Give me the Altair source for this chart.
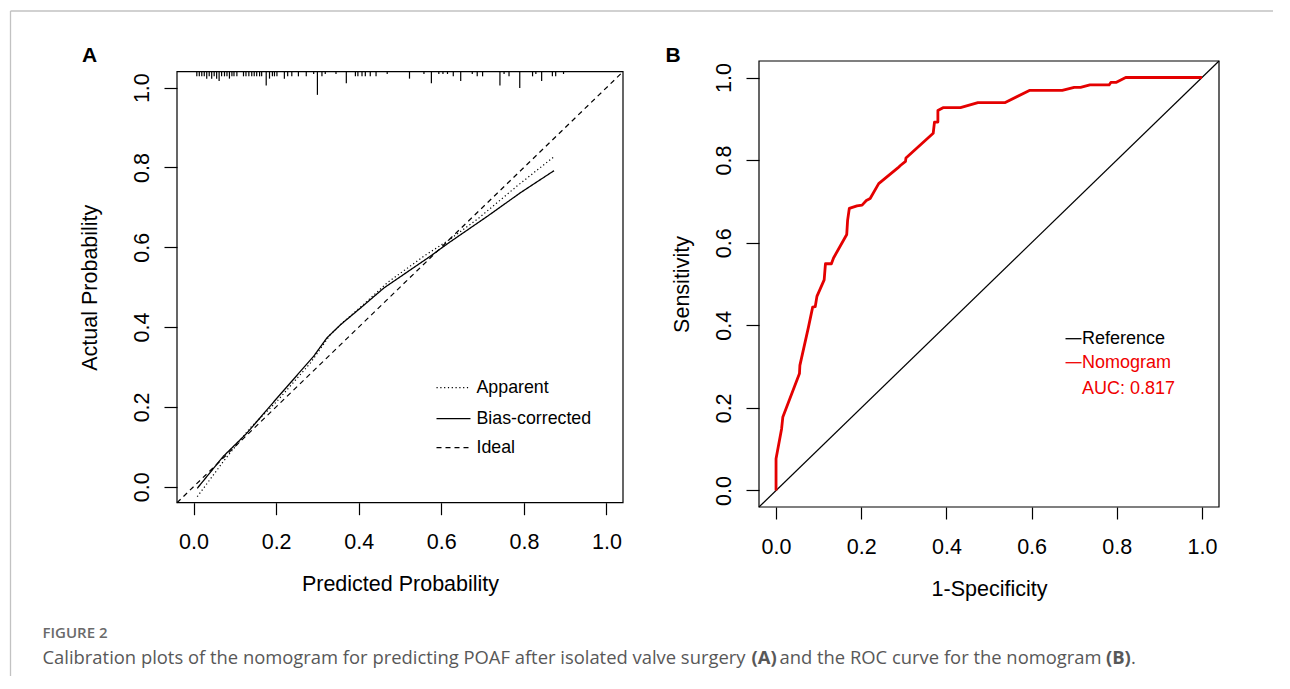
import altair as alt
import pandas as pd

TICKS = [0.0, 0.2, 0.4, 0.6, 0.8, 1.0]
LO, HI = -0.04, 1.04

# ---------- Panel A: calibration ----------
rug_x = [0.008, 0.014, 0.020, 0.026, 0.032, 0.038, 0.044, 0.050, 0.056, 0.062, 0.068, 0.075,
         0.081, 0.087, 0.093, 0.098, 0.105, 0.121, 0.127, 0.134, 0.141, 0.147, 0.153, 0.160,
         0.165, 0.176, 0.184, 0.191, 0.196, 0.202, 0.220, 0.228, 0.238, 0.254, 0.273, 0.291,
         0.300, 0.311, 0.319, 0.345, 0.370, 0.392, 0.398, 0.408, 0.416, 0.428, 0.442, 0.469,
         0.523, 0.558, 0.576, 0.594, 0.604, 0.615, 0.629, 0.647, 0.675, 0.687, 0.700, 0.742,
         0.752, 0.764, 0.790, 0.821, 0.829, 0.843, 0.869, 0.877, 0.896]
rug_n = [2, 2, 2, 2, 3, 2, 3, 2, 3, 4, 2, 2,
         2, 3, 2, 2, 2, 2, 2, 2, 2, 2, 2, 2,
         2, 6, 3, 2, 2, 2, 3, 2, 2, 2, 2, 1,
         10, 2, 1, 1, 5, 2, 2, 2, 2, 2, 2, 1,
         3, 1, 5, 1, 1, 1, 2, 4, 1, 2, 2, 6,
         1, 2, 7, 2, 1, 4, 2, 2, 1]

apparent_x = [0.009, 0.072, 0.137, 0.202, 0.283, 0.331, 0.364, 0.412, 0.469, 0.558, 0.615, 0.687, 0.784, 0.873]
apparent_y = [-0.025, 0.063, 0.147, 0.214, 0.310, 0.381, 0.414, 0.457, 0.511, 0.578, 0.616, 0.670, 0.754, 0.827]
bias_x = [0.009, 0.072, 0.129, 0.202, 0.291, 0.323, 0.356, 0.400, 0.461, 0.574, 0.615, 0.712, 0.792, 0.873]
bias_y = [-0.004, 0.076, 0.134, 0.222, 0.327, 0.373, 0.406, 0.444, 0.498, 0.578, 0.609, 0.678, 0.737, 0.792]
ideal_xy = [LO, HI]

legendA_labels = ["Apparent", "Bias-corrected", "Ideal"]

# ---------- Panel B: ROC ----------
roc_fpr = [0.0, 0.0, 0.013, 0.016, 0.055, 0.056, 0.076, 0.086, 0.092, 0.096, 0.113, 0.116,
           0.130, 0.135, 0.166, 0.168, 0.172, 0.190, 0.202, 0.212, 0.221, 0.241, 0.286, 0.292,
           0.304, 0.305, 0.369, 0.372, 0.380, 0.380, 0.392, 0.433, 0.474, 0.537, 0.596, 0.672,
           0.700, 0.715, 0.737, 0.782, 0.786, 0.798, 0.821, 1.0]
roc_tpr = [0.0, 0.077, 0.149, 0.178, 0.283, 0.303, 0.395, 0.444, 0.445, 0.470, 0.510, 0.549,
           0.549, 0.563, 0.620, 0.654, 0.683, 0.689, 0.691, 0.702, 0.707, 0.743, 0.781, 0.787,
           0.797, 0.805, 0.865, 0.892, 0.892, 0.920, 0.927, 0.927, 0.939, 0.939, 0.969, 0.969,
           0.976, 0.976, 0.982, 0.982, 0.988, 0.988, 1.0, 1.0]
auc_text = "AUC: 0.817"

caption_head = "FIGURE 2"
caption_parts = ["Calibration plots of the nomogram for predicting POAF after isolated valve surgery",
                 "(A)", "and the ROC curve for the nomogram", "(B)", "."]

# ---------- layout constants (pixels) ----------
A_W, A_H, A_TOP = 446, 441.7, 10.7
B_W, B_H = 460, 446
SPACING = 136
FONT = "Liberation Sans"
CAP_FONT = "Open Sans"
RED_LINE = "#e40000"
RED_TEXT = "#f00000"
AX_FS = 21.5


def xs():
    return alt.Scale(domain=[LO, HI], nice=False, zero=False)


def ysA():
    return alt.Scale(domain=[LO, HI], nice=False, zero=False, range=[A_H, A_TOP])


def ysB():
    return alt.Scale(domain=[LO, HI], nice=False, zero=False)


def axis_x(title):
    return alt.Axis(values=TICKS, format=".1f", title=title, tickSize=12, labelPadding=17,
                    titleY=88, titleBaseline="alphabetic", labelFlush=False, domain=False,
                    grid=False, labelOverlap=False)


def axis_y(title, tx):
    return alt.Axis(values=TICKS, format=".1f", title=title, tickSize=13, labelPadding=16,
                    labelAngle=270, labelAlign="center", labelBaseline="alphabetic",
                    titleX=tx, titleAngle=270, titleBaseline="alphabetic", labelFlush=False,
                    domain=False, grid=False, labelOverlap=False)


AXA_X = axis_x("Predicted Probability")
AXA_Y = axis_y("Actual Probability", -81)
AXB_X = axis_x("1-Specificity")
AXB_Y = axis_y("Sensitivity", -70.5)


def encA(chart, **extra):
    return chart.encode(x=alt.X("x:Q", scale=xs(), axis=AXA_X),
                        y=alt.Y("y:Q", scale=ysA(), axis=AXA_Y), **extra)


def encB(chart, **extra):
    return chart.encode(x=alt.X("x:Q", scale=xs(), axis=AXB_X),
                        y=alt.Y("y:Q", scale=ysB(), axis=AXB_Y), **extra)


one = pd.DataFrame({"k": [0]})
frame_df = pd.DataFrame({"x": [LO], "x2": [HI], "y": [LO], "y2": [HI]})

# ---------- Panel A layers ----------
frameA = encA(alt.Chart(frame_df).mark_rect(filled=False, stroke="black", strokeWidth=1.2),
              x2="x2:Q", y2="y2:Q")


def lineA(xv, yv, dash, width=1.2):
    df = pd.DataFrame({"x": xv, "y": yv, "i": range(len(xv))})
    m = alt.Chart(df).mark_line(color="black", strokeWidth=width, strokeDash=dash, clip=False)
    return encA(m, order="i:Q")


ideal = lineA(ideal_xy, ideal_xy, [5, 4])
apparent = lineA(apparent_x, apparent_y, [1.2, 2.6])
bias = lineA(bias_x, bias_y, [1, 0], 1.3)

rug_df = pd.DataFrame({"x": rug_x, "n": rug_n})
rug_df["y"] = HI
rug_df["y2"] = HI - rug_df["n"] * 0.0058
rug = encA(alt.Chart(rug_df).mark_rule(color="black", strokeWidth=1.2), y2="y2:Q")

legA_y = [326.7, 357.7, 386.7]
legA_dash = [[1.2, 2.6], [1, 0], [5, 4]]
legA_layers = []
for lab, yy, dash in zip(legendA_labels, legA_y, legA_dash):
    legA_layers.append(
        alt.Chart(one).mark_rule(color="black", strokeWidth=1.2, strokeDash=dash).encode(
            x=alt.value(259.5), x2=alt.value(293.5), y=alt.value(yy)))
    legA_layers.append(
        alt.Chart(one).mark_text(text=lab, font=FONT, fontSize=17.8, align="left",
                                 baseline="middle", color="black").encode(
            x=alt.value(299.5), y=alt.value(yy + 0.5)))

labelA = alt.Chart(one).mark_text(text="A", font=FONT, fontSize=21, fontWeight="bold",
                                  align="center", baseline="middle", color="black").encode(
    x=alt.value(-87.3), y=alt.value(-4.6))

# page decorations (gray frame lines, anchor, caption)
anchor = alt.Chart(one).mark_rule(strokeOpacity=0, opacity=0).encode(
    x=alt.value(-168.5), y=alt.value(-52), y2=alt.value(-51.5))
top_line = alt.Chart(one).mark_rule(color="#c2c2c2", strokeWidth=1.3).encode(
    x=alt.value(-166.5), x2=alt.value(1096), y=alt.value(-50))
left_line = alt.Chart(one).mark_rule(color="#c2c2c2", strokeWidth=1.3).encode(
    x=alt.value(-166.5), y=alt.value(-50), y2=alt.value(615))

cap_head = alt.Chart(one).mark_text(text=caption_head, font=CAP_FONT, fontSize=15, fontWeight=600,
                                    align="left", baseline="middle", color="#6a6a6a").encode(
    x=alt.value(-134.5), y=alt.value(572))
cap_x = [-134.5, 574.5, 602.5, 929, 954]
cap_w = ["normal", "bold", "normal", "bold", "normal"]
cap_layers = []
for txt, xx, w in zip(caption_parts, cap_x, cap_w):
    cap_layers.append(
        alt.Chart(one).mark_text(text=txt, font=CAP_FONT, fontSize=18.4, fontWeight=w,
                                 align="left", baseline="middle", color="#585858").encode(
            x=alt.value(xx), y=alt.value(597)))

panelA = alt.layer(frameA, rug, ideal, apparent, bias, *legA_layers, labelA,
                   anchor, top_line, left_line, cap_head, *cap_layers).properties(
    width=A_W, height=A_H)

# ---------- Panel B layers ----------
frameB = encB(alt.Chart(frame_df).mark_rect(filled=False, stroke="black", strokeWidth=1.2),
              x2="x2:Q", y2="y2:Q")
diag_df = pd.DataFrame({"x": ideal_xy, "y": ideal_xy, "i": [0, 1]})
diag = encB(alt.Chart(diag_df).mark_line(color="black", strokeWidth=1.2, clip=False), order="i:Q")
roc_df = pd.DataFrame({"x": roc_fpr, "y": roc_tpr, "i": range(len(roc_fpr))})
roc = encB(alt.Chart(roc_df).mark_line(color=RED_LINE, strokeWidth=2.8, strokeJoin="round"),
           order="i:Q")

legB = [
    alt.Chart(one).mark_rule(color="black", strokeWidth=1.3).encode(
        x=alt.value(306.5), x2=alt.value(322.5), y=alt.value(277.7)),
    alt.Chart(one).mark_text(text="Reference", font=FONT, fontSize=18, align="left",
                             baseline="middle", color="black").encode(
        x=alt.value(323), y=alt.value(277.7)),
    alt.Chart(one).mark_rule(color=RED_TEXT, strokeWidth=1.3).encode(
        x=alt.value(306.5), x2=alt.value(322.5), y=alt.value(301.7)),
    alt.Chart(one).mark_text(text="Nomogram", font=FONT, fontSize=18, align="left",
                             baseline="middle", color=RED_TEXT).encode(
        x=alt.value(323), y=alt.value(301.7)),
    alt.Chart(one).mark_text(text=auc_text, font=FONT, fontSize=18, align="left",
                             baseline="middle", color=RED_TEXT).encode(
        x=alt.value(323), y=alt.value(327.5)),
]
labelB = alt.Chart(one).mark_text(text="B", font=FONT, fontSize=21, fontWeight="bold",
                                  align="center", baseline="middle", color="black").encode(
    x=alt.value(-85.8), y=alt.value(-5.5))

panelB = alt.layer(frameB, diag, roc, *legB, labelB).properties(width=B_W, height=B_H)

chart = alt.hconcat(panelA, panelB, spacing=SPACING, bounds="flush").properties(
    padding=0, background="white"
).configure_view(stroke="transparent").configure_axis(
    labelFont=FONT, titleFont=FONT, labelFontSize=AX_FS, titleFontSize=AX_FS,
    labelColor="black", titleColor="black", tickColor="black", tickWidth=1.2,
    titleFontWeight="normal",
)

chart.save("out.html", embed_options={"renderer": "svg", "actions": False})
